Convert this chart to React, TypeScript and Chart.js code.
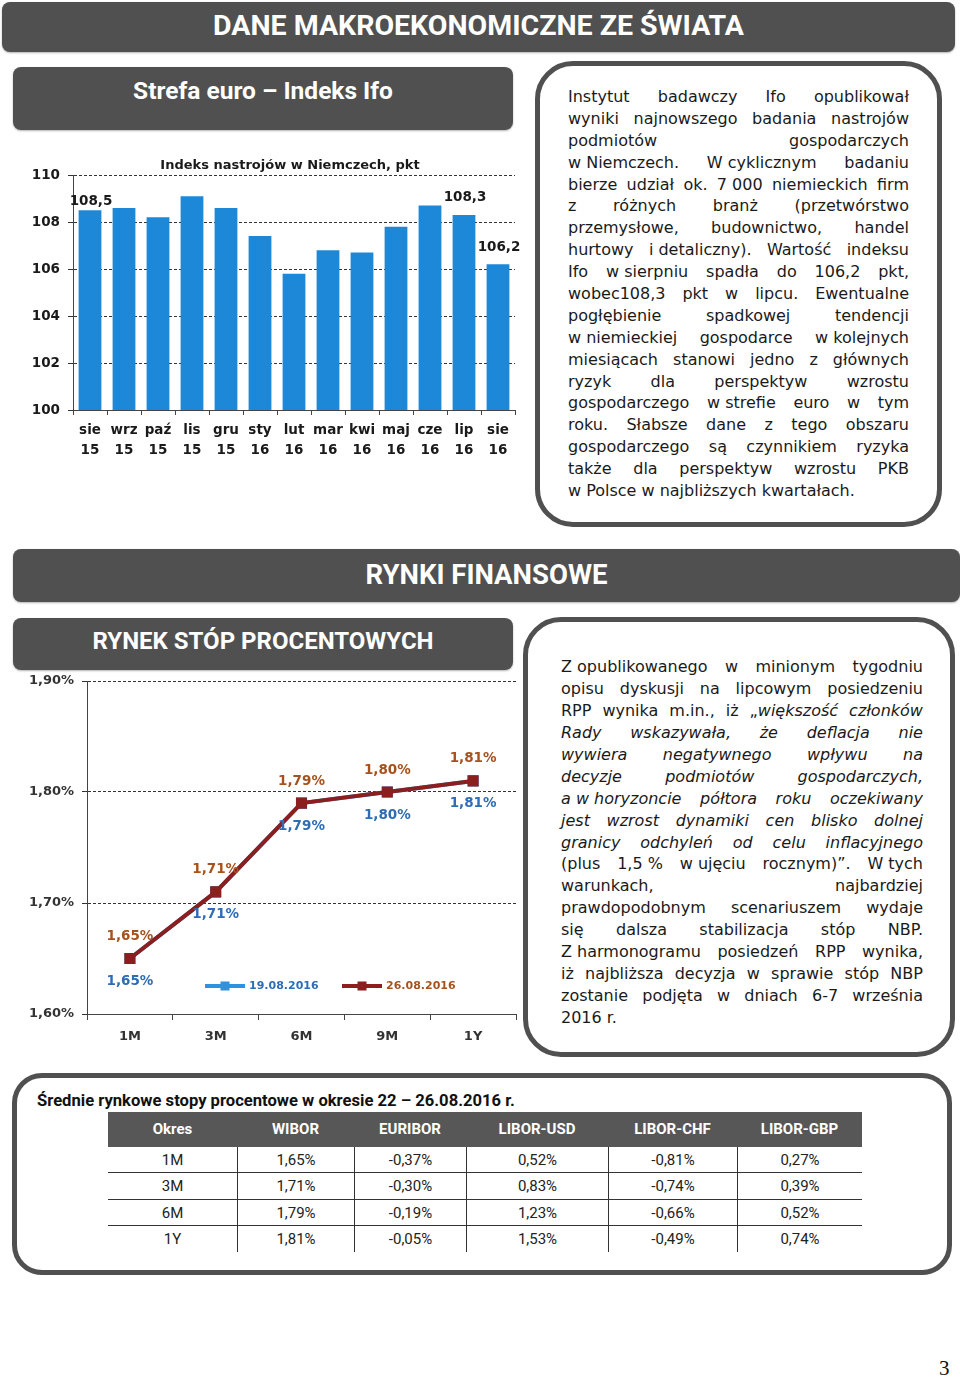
import React, { useEffect, useRef } from "react";
import { Chart, registerables } from "chart.js";

Chart.register(...registerables);

// ---------- DATA ----------
const ifoTitle = "Indeks nastrojów w Niemczech, pkt";
const ifoCategories = [
  ["sie", "15"], ["wrz", "15"], ["paź", "15"], ["lis", "15"], ["gru", "15"],
  ["sty", "16"], ["lut", "16"], ["mar", "16"], ["kwi", "16"], ["maj", "16"],
  ["cze", "16"], ["lip", "16"], ["sie", "16"],
];
const ifoValues = [108.5, 108.6, 108.2, 109.1, 108.6, 107.4, 105.8, 106.8, 106.7, 107.8, 108.7, 108.3, 106.2];
const ifoLabelledIdx = [0, 11, 12];
const ifoYMin = 100;
const ifoYMax = 110;
const ifoYStep = 2;

const tenorLabels = ["1M", "3M", "6M", "9M", "1Y"];
const seriesNames = ["19.08.2016", "26.08.2016"];
const wibor1908 = [1.65, 1.71, 1.79, 1.8, 1.81];
const wibor2608 = [1.65, 1.71, 1.79, 1.8, 1.81];
const rateYMin = 1.6;
const rateYMax = 1.9;
const rateYStep = 0.1;

const tableTitle = "Średnie rynkowe stopy procentowe w okresie 22 – 26.08.2016 r.";
const tableHead = ["Okres", "WIBOR", "EURIBOR", "LIBOR-USD", "LIBOR-CHF", "LIBOR-GBP"];
const tablePeriods = ["1M", "3M", "6M", "1Y"];
const tWibor = ["1,65%", "1,71%", "1,79%", "1,81%"];
const tEuribor = ["-0,37%", "-0,30%", "-0,19%", "-0,05%"];
const tLiborUsd = ["0,52%", "0,83%", "1,23%", "1,53%"];
const tLiborChf = ["-0,81%", "-0,74%", "-0,66%", "-0,49%"];
const tLiborGbp = ["0,27%", "0,39%", "0,52%", "0,74%"];

const text1Lines = [
  "Instytut badawczy Ifo opublikował",
  "wyniki najnowszego badania nastrojów",
  "podmiotów gospodarczych",
  "w\u00a0Niemczech. W\u00a0cyklicznym badaniu",
  "bierze udział ok. 7\u00a0000 niemieckich firm",
  "z różnych branż (przetwórstwo",
  "przemysłowe, budownictwo, handel",
  "hurtowy i\u00a0detaliczny). Wartość indeksu",
  "Ifo w\u00a0sierpniu spadła do 106,2 pkt,",
  "wobec108,3 pkt w lipcu. Ewentualne",
  "pogłębienie spadkowej tendencji",
  "w\u00a0niemieckiej gospodarce w\u00a0kolejnych",
  "miesiącach stanowi jedno z głównych",
  "ryzyk dla perspektyw wzrostu",
  "gospodarczego w\u00a0strefie euro w tym",
  "roku. Słabsze dane z tego obszaru",
  "gospodarczego są czynnikiem ryzyka",
  "także dla perspektyw wzrostu PKB",
  "w\u00a0Polsce w\u00a0najbliższych kwartałach.",
];

const text2Lines = [
  "Z\u00a0opublikowanego w minionym tygodniu",
  "opisu dyskusji na lipcowym posiedzeniu",
  "RPP wynika m.in., iż „_większość członków_",
  "_Rady wskazywała, że deflacja nie_",
  "_wywiera negatywnego wpływu na_",
  "_decyzje podmiotów gospodarczych,_",
  "_a\u00a0w\u00a0horyzoncie półtora roku oczekiwany_",
  "_jest wzrost dynamiki cen blisko dolnej_",
  "_granicy odchyleń od celu inflacyjnego_",
  "(plus 1,5\u00a0% w\u00a0ujęciu rocznym)”. W\u00a0tych",
  "warunkach, najbardziej",
  "prawdopodobnym scenariuszem wydaje",
  "się dalsza stabilizacja stóp NBP.",
  "Z\u00a0harmonogramu posiedzeń RPP wynika,",
  "iż najbliższa decyzja w sprawie stóp NBP",
  "zostanie podjęta w dniach 6-7 września",
  "2016 r.",
];

// ---------- STYLE ----------
const FONT = "'DejaVu Sans', sans-serif";
const HEAD_FONT = "Roboto, 'DejaVu Sans', sans-serif";
const DARK = "#505050";
const BAR_BLUE = "#1e88d8";
const LINE_BLUE = "#2f92dd";
const LINE_RED = "#8b1e1e";
const LABEL_BLUE = "#2e6db4";
const LABEL_RED = "#a6521f";

const fmt = (v: number, d: number) => v.toFixed(d).replace(".", ",");

// ---------- PLUGINS ----------
const ifoPlugin = {
  id: "ifoDecor",
  afterDatasetsDraw(chart: any) {
    const { ctx, chartArea } = chart;
    ctx.save();
    ctx.fillStyle = "#1a1a1a";
    ctx.font = `bold 13px ${FONT}`;
    ctx.textAlign = "center";
    ctx.textBaseline = "middle";
    ctx.fillText(ifoTitle, (chartArea.left + chartArea.right) / 2 - 4, chartArea.top - 9);
    ctx.font = `bold 13.5px ${FONT}`;
    const meta = chart.getDatasetMeta(0);
    ifoLabelledIdx.forEach((i, n) => {
      const el = meta.data[i];
      const dy = n === 0 ? 9 : 17;
      ctx.fillText(fmt(ifoValues[i], 1), el.x + 1, el.y - dy);
    });
    ctx.restore();
  },
};

const rateLabelsPlugin = {
  id: "rateDecor",
  afterDatasetsDraw(chart: any) {
    const { ctx, chartArea } = chart;
    ctx.save();
    ctx.textAlign = "center";
    ctx.textBaseline = "middle";
    ctx.font = `bold 13.5px ${FONT}`;
    const specs = [
      { ds: 0, dy: 23, color: LABEL_BLUE, legendX: 118 },
      { ds: 1, dy: -22, color: LABEL_RED, legendX: 255 },
    ];
    specs.forEach((s) => {
      const meta = chart.getDatasetMeta(s.ds);
      const vals = chart.data.datasets[s.ds].data as number[];
      meta.data.forEach((el: any, i: number) => {
        ctx.fillStyle = s.color;
        ctx.fillText(fmt(vals[i], 2) + "%", el.x, el.y + s.dy);
      });
    });
    // legend inside chart area
    const ly = chartArea.bottom - 28;
    specs.forEach((s) => {
      const ds = chart.data.datasets[s.ds];
      const x0 = chartArea.left + s.legendX;
      ctx.strokeStyle = ds.borderColor;
      ctx.lineWidth = 4;
      ctx.beginPath();
      ctx.moveTo(x0, ly);
      ctx.lineTo(x0 + 40, ly);
      ctx.stroke();
      ctx.fillStyle = ds.borderColor;
      ctx.fillRect(x0 + 15.5, ly - 4.5, 9, 9);
      ctx.fillStyle = s.color;
      ctx.textAlign = "left";
      ctx.font = `bold 11px ${FONT}`;
      ctx.fillText(ds.label, x0 + 44, ly + 0.5);
    });
    ctx.restore();
  },
};

// ---------- CHARTS ----------
function IfoChart() {
  const ref = useRef<HTMLCanvasElement>(null);
  useEffect(() => {
    if (!ref.current) return;
    const chart = new Chart(ref.current, {
      type: "bar",
      data: {
        labels: ifoCategories as any,
        datasets: [
          {
            data: ifoValues,
            backgroundColor: BAR_BLUE,
            categoryPercentage: 0.67,
            barPercentage: 1,
          },
        ],
      },
      options: {
        animation: false,
        responsive: false,
        maintainAspectRatio: false,
        layout: { padding: { top: 35, right: 10, left: 0, bottom: 0 } },
        plugins: { legend: { display: false }, tooltip: { enabled: false }, title: { display: false } },
        scales: {
          x: {
            grid: { display: true, drawOnChartArea: false, drawTicks: true, tickLength: 5, color: "#444", offset: true },
            border: { color: "#444", width: 1 },
            ticks: {
              color: "#1a1a1a",
              font: { family: FONT, size: 13.5, weight: "bold", lineHeight: 1.48 },
              padding: 6,
              maxRotation: 0,
              autoSkip: false,
            },
            afterFit: (s: any) => {
              s.height = 60;
            },
          },
          y: {
            min: ifoYMin,
            max: ifoYMax,
            ticks: {
              stepSize: ifoYStep,
              color: "#1a1a1a",
              font: { family: FONT, size: 13.5, weight: "bold" },
              padding: 8,
            },
            grid: { color: "#333", lineWidth: 1, tickLength: 5, drawTicks: true },
            border: { color: "#444", width: 1, dash: [3, 2] },
            afterFit: (s: any) => {
              s.width = 63;
            },
          },
        },
      } as any,
      plugins: [ifoPlugin],
    });
    return () => chart.destroy();
  }, []);
  return <canvas ref={ref} width={515} height={330} style={{ position: "absolute", left: 10, top: 140 }} />;
}

function RateChart() {
  const ref = useRef<HTMLCanvasElement>(null);
  useEffect(() => {
    if (!ref.current) return;
    const chart = new Chart(ref.current, {
      type: "line",
      data: {
        labels: tenorLabels,
        datasets: [
          {
            label: seriesNames[0],
            data: wibor1908,
            borderColor: LINE_BLUE,
            backgroundColor: LINE_BLUE,
            borderWidth: 4,
            pointStyle: "rect",
            pointRadius: 5,
            order: 1,
          },
          {
            label: seriesNames[1],
            data: wibor2608,
            borderColor: LINE_RED,
            backgroundColor: LINE_RED,
            borderWidth: 4,
            pointStyle: "rect",
            pointRadius: 5,
            order: 0,
          },
        ],
      },
      options: {
        animation: false,
        responsive: false,
        maintainAspectRatio: false,
        layout: { padding: { top: 21, right: 5, left: 0, bottom: 0 } },
        plugins: { legend: { display: false }, tooltip: { enabled: false } },
        scales: {
          x: {
            offset: true,
            grid: { display: true, drawOnChartArea: false, drawTicks: true, tickLength: 6, color: "#444", offset: true },
            border: { color: "#444", width: 1 },
            ticks: {
              color: "#333",
              font: { family: FONT, size: 13, weight: "bold" },
              padding: 9,
              maxRotation: 0,
            },
            afterFit: (s: any) => {
              s.height = 41;
            },
          },
          y: {
            min: rateYMin,
            max: rateYMax,
            ticks: {
              stepSize: rateYStep,
              color: "#333",
              font: { family: FONT, size: 13, weight: "bold" },
              padding: 8,
              callback: (v: any) => fmt(Number(v), 2) + "%",
            },
            grid: { color: "#333", lineWidth: 1, tickLength: 5, drawTicks: true },
            border: { color: "#444", width: 1, dash: [3, 2] },
            afterFit: (s: any) => {
              s.width = 77;
            },
          },
        },
      } as any,
      plugins: [rateLabelsPlugin],
    });
    return () => chart.destroy();
  }, []);
  return <canvas ref={ref} width={515} height={395} style={{ position: "absolute", left: 10, top: 660 }} />;
}

// ---------- TEXT ----------
function parseWords(line: string) {
  const out: { t: string; it: boolean }[][] = [];
  let it = false;
  for (const raw of line.split(" ").filter(Boolean)) {
    const segs: { t: string; it: boolean }[] = [];
    let cur = "";
    for (const ch of raw) {
      if (ch === "_") {
        if (cur) segs.push({ t: cur, it });
        cur = "";
        it = !it;
      } else cur += ch;
    }
    if (cur) segs.push({ t: cur, it });
    out.push(segs);
  }
  return out;
}

function JustifiedText({ lines, left, top, width, lh }: { lines: string[]; left: number; top: number; width: number; lh: number }) {
  return (
    <div style={{ position: "absolute", left, top, width, fontFamily: FONT, fontSize: 16, color: "#1a1a1a" }}>
      {lines.map((ln, i) => {
        const last = i === lines.length - 1;
        const words = parseWords(ln);
        return (
          <div
            key={i}
            style={{
              height: lh,
              lineHeight: lh + "px",
              display: "flex",
              justifyContent: last ? "flex-start" : "space-between",
              columnGap: last ? 5 : 3,
              whiteSpace: "nowrap",
            }}
          >
            {words.map((segs, j) => (
              <span key={j}>
                {segs.map((s, k) => (
                  <span key={k} style={{ fontStyle: s.it ? "italic" : "normal" }}>
                    {s.t}
                  </span>
                ))}
              </span>
            ))}
          </div>
        );
      })}
    </div>
  );
}

function HeadBar({ left, top, width, height, text, size, padTop }: any) {
  return (
    <div
      style={{
        position: "absolute",
        left,
        top,
        width,
        height,
        background: DARK,
        borderRadius: 8,
        color: "#fff",
        fontFamily: HEAD_FONT,
        fontWeight: 700,
        fontSize: size,
        textAlign: "center",
        boxSizing: "border-box",
        paddingTop: padTop,
        lineHeight: 1.2,
        boxShadow: "0 1px 2px rgba(0,0,0,0.3)",
      }}
    >
      {text}
    </div>
  );
}

function Frame({ left, top, width, height, radius }: any) {
  return (
    <div
      style={{
        position: "absolute",
        left,
        top,
        width,
        height,
        boxSizing: "border-box",
        border: `5px solid ${DARK}`,
        borderRadius: radius,
        background: "#fff",
      }}
    />
  );
}

function RatesTable() {
  const colW = [129, 117, 112, 142, 129, 125];
  const cols = [tablePeriods, tWibor, tEuribor, tLiborUsd, tLiborChf, tLiborGbp];
  const rowH = 26.25;
  return (
    <div style={{ position: "absolute", left: 108, top: 1112, width: 754 }}>
      <div style={{ display: "flex", height: 35, background: "#575757", color: "#fff", fontFamily: HEAD_FONT, fontWeight: 700, fontSize: 15 }}>
        {tableHead.map((h, i) => (
          <div key={i} style={{ width: colW[i], textAlign: "center", lineHeight: "35px" }}>
            {h}
          </div>
        ))}
      </div>
      {tablePeriods.map((_, r) => (
        <div
          key={r}
          style={{
            display: "flex",
            height: rowH,
            boxSizing: "border-box",
            borderBottom: r < tablePeriods.length - 1 ? "1.5px solid #333" : "none",
            fontFamily: HEAD_FONT,
            fontWeight: 400,
            fontSize: 15,
            color: "#222",
          }}
        >
          {cols.map((c, i) => (
            <div
              key={i}
              style={{
                width: colW[i],
                textAlign: "center",
                lineHeight: rowH + "px",
                boxSizing: "border-box",
                borderLeft: i > 0 ? "1px solid #333" : "none",
              }}
            >
              {c[r]}
            </div>
          ))}
        </div>
      ))}
    </div>
  );
}

export default function App() {
  return (
    <div style={{ position: "absolute", left: 0, top: 0, width: 960, height: 1379, background: "#fff", overflow: "hidden" }}>
      <HeadBar left={2} top={2} width={953} height={50} text="DANE MAKROEKONOMICZNE ZE ŚWIATA" size={28.5} padTop={7} />
      <HeadBar left={13} top={67} width={500} height={63} text="Strefa euro – Indeks Ifo" size={24.5} padTop={9} />
      <IfoChart />
      <Frame left={535} top={61} width={407} height={466} radius={38} />
      <JustifiedText lines={text1Lines} left={568} top={86} width={341} lh={21.9} />

      <HeadBar left={13} top={549} width={947} height={53} text="RYNKI FINANSOWE" size={27.5} padTop={9} />
      <HeadBar left={13} top={618} width={500} height={52} text="RYNEK STÓP PROCENTOWYCH" size={24} padTop={9} />
      <RateChart />
      <Frame left={523} top={617} width={432} height={440} radius={38} />
      <JustifiedText lines={text2Lines} left={561} top={656} width={362} lh={21.94} />

      <Frame left={12} top={1073} width={940} height={202} radius={30} />
      <div style={{ position: "absolute", left: 37, top: 1091, fontFamily: HEAD_FONT, fontWeight: 700, fontSize: 16.6, color: "#111", lineHeight: "20px" }}>
        {tableTitle}
      </div>
      <RatesTable />
      <div style={{ position: "absolute", left: 939, top: 1356, fontFamily: "'Liberation Serif', serif", fontSize: 21, color: "#111" }}>3</div>
    </div>
  );
}
